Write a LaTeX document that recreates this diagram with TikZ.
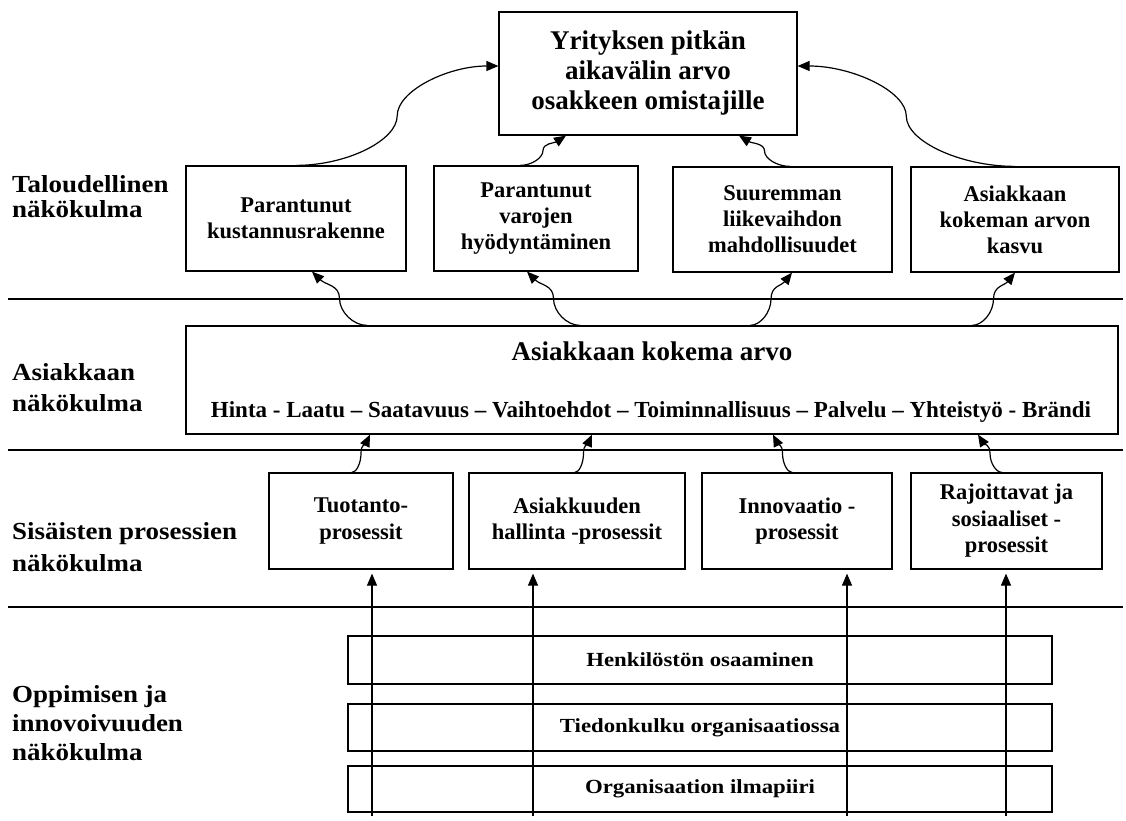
\documentclass[tikz,border=0pt]{standalone}
\usepackage{fontspec}
\setmainfont{Liberation Serif}
\newfontfamily\sidefont{Liberation Serif}[FakeStretch=1.1]
\newfontfamily\basefont{Liberation Serif}[FakeStretch=1.14]
\usetikzlibrary{arrows.meta,calc}

% S-shaped connector: flat start, vertical middle, end tangent lifted by #1 (0 = flat)
\newcommand\curvelink[3][0]{%
  \draw[link] let \p1=(#2), \p2=(#3) in
    (\p1) .. controls ({(3*(\x1)+(\x2))/4},{\y1}) and ({((\x1)+(\x2))/2},{(3*(\y1)+(\y2))/4})
    .. ({((\x1)+(\x2))/2},{((\y1)+(\y2))/2})
    .. controls ({((\x1)+(\x2))/2},{((\y1)+3*(\y2))/4}) and ({((\x1)+3*(\x2))/4},{(\y2)+#1*((\y1)-(\y2))/4})
    .. (\p2);}

\tikzset{
  box/.style={draw, line width=1.2pt, inner sep=0pt, align=center},
  topbox/.style={box, font=\fontsize{27}{30}\selectfont\bfseries},
  finbox/.style={box, minimum height=105pt, font=\fontsize{22.5}{26}\selectfont\bfseries},
  procbox/.style={box, minimum height=96pt, font=\fontsize{22.5}{26.5}\selectfont\bfseries},
  basebox/.style={box, minimum width=704pt, font=\basefont\fontsize{20}{24}\selectfont\bfseries},
  sidelabel/.style={anchor=west, inner sep=0pt, align=left, font=\sidefont\bfseries},
  tip/.style={-{Triangle[length=12pt,width=10pt]}},
  link/.style={line width=1.2pt, tip},
  uparrow/.style={line width=1.2pt, tip, shorten >=4pt},
  rule/.style={line width=1.2pt}
}

\begin{document}
\begin{tikzpicture}[x=1pt,y=-1pt]
\useasboundingbox (0,0) rectangle (1126,821);

% perspective separators
\draw[rule] (8,299) -- (1123,299);
\draw[rule] (8,450) -- (1123,450);
\draw[rule] (8,607) -- (1123,607);

% perspective labels
\node[sidelabel, font=\sidefont\fontsize{24.5}{25}\selectfont\bfseries] (L1) at (12,197) {Taloudellinen\\näkökulma};
\node[sidelabel, font=\sidefont\fontsize{24.5}{31}\selectfont\bfseries] (L2) at (12,388) {Asiakkaan\\näkökulma};
\node[sidelabel, font=\sidefont\fontsize{24.5}{32}\selectfont\bfseries] (L3) at (12,547) {Sisäisten prosessien\\näkökulma};
\node[sidelabel, font=\sidefont\fontsize{24.5}{29}\selectfont\bfseries] (L4) at (12,723) {Oppimisen ja\\innovoivuuden\\näkökulma};

% top goal
\node[topbox, minimum width=298pt, minimum height=123pt] (T) at (648,73.5) {Yrityksen pitkän\\aikavälin arvo\\osakkeen omistajille};

% financial perspective
\node[finbox, minimum width=220pt] (F1) at (296,218.5) {Parantunut\\kustannusrakenne};
\node[finbox, minimum width=204pt] (F2) at (536,218.5) {Parantunut\\varojen\\hyödyntäminen};
\node[finbox, minimum width=219pt] (F3) at (782.5,219.5) {Suuremman\\liikevaihdon\\mahdollisuudet};
\node[finbox, minimum width=208pt] (F4) at (1015,219.5) {Asiakkaan\\kokeman arvon\\kasvu};

% customer perspective
\node[box, minimum width=932pt, minimum height=108pt] (M) at (652,380) {};
\node[anchor=base, inner sep=0pt, font=\fontsize{27}{30}\selectfont\bfseries] (MT) at (652,360) {Asiakkaan kokema arvo};
\node[anchor=base, inner sep=0pt, font=\fontsize{23}{26}\selectfont\bfseries] (ML) at (651,417) {Hinta - Laatu – Saatavuus – Vaihtoehdot – Toiminnallisuus – Palvelu – Yhteistyö - Brändi};

% internal processes
\node[procbox, minimum width=184pt] (P1) at (361,521) {Tuotanto-\\prosessit};
\node[procbox, minimum width=216pt] (P2) at (577,521) {Asiakkuuden\\hallinta -prosessit};
\node[procbox, minimum width=190pt] (P3) at (797,521) {Innovaatio -\\prosessit};
\node[procbox, minimum width=191pt] (P4) at (1006.5,521) {Rajoittavat ja\\sosiaaliset -\\prosessit};

% learning and growth
\node[basebox, minimum height=48pt] (B1) at (700,660) {Henkilöstön osaaminen};
\node[basebox, minimum height=47pt] (B2) at (700,727.5) {Tiedonkulku organisaatiossa};
\node[basebox, minimum height=46pt] (B3) at (700,789) {Organisaation ilmapiiri};

% financial results feed the long-term value
\curvelink{F1.north}{[yshift=7.5pt]T.west}
\curvelink{F4.north}{[yshift=7.5pt]T.east}
\curvelink[1]{[xshift=-16pt]F2.north}{[xshift=-82pt]T.south}
\curvelink[1]{[xshift=7.5pt]F3.north}{[xshift=91pt]T.south}

% customer value feeds the financial results
\curvelink[1]{[xshift=-285pt]M.north}{[xshift=16pt]F1.south}
\curvelink[1]{[xshift=-72pt]M.north}{[xshift=-9pt]F2.south}
\curvelink[1]{[xshift=98pt]M.north}{[xshift=9.5pt]F3.south}
\curvelink[1]{[xshift=320pt]M.north}{F4.south}

% processes feed customer value
\curvelink[1]{[xshift=-9pt]P1.north}{[xshift=-282pt]M.south}
\curvelink[1]{[xshift=-2pt]P2.north}{[xshift=-60pt]M.south}
\curvelink[1]{[xshift=-5pt]P3.north}{[xshift=121pt]M.south}
\curvelink[1]{[xshift=-4.5pt]P4.north}{[xshift=326pt]M.south}

% learning and growth supports every process
\coordinate (u1) at (372,816);
\coordinate (u2) at (533,816);
\coordinate (u3) at (847,816);
\coordinate (u4) at (1006,816);
\draw[uparrow] (u1) -- (u1 |- P1.south);
\draw[uparrow] (u2) -- (u2 |- P2.south);
\draw[uparrow] (u3) -- (u3 |- P3.south);
\draw[uparrow] (u4) -- (u4 |- P4.south);
\end{tikzpicture}
\end{document}
